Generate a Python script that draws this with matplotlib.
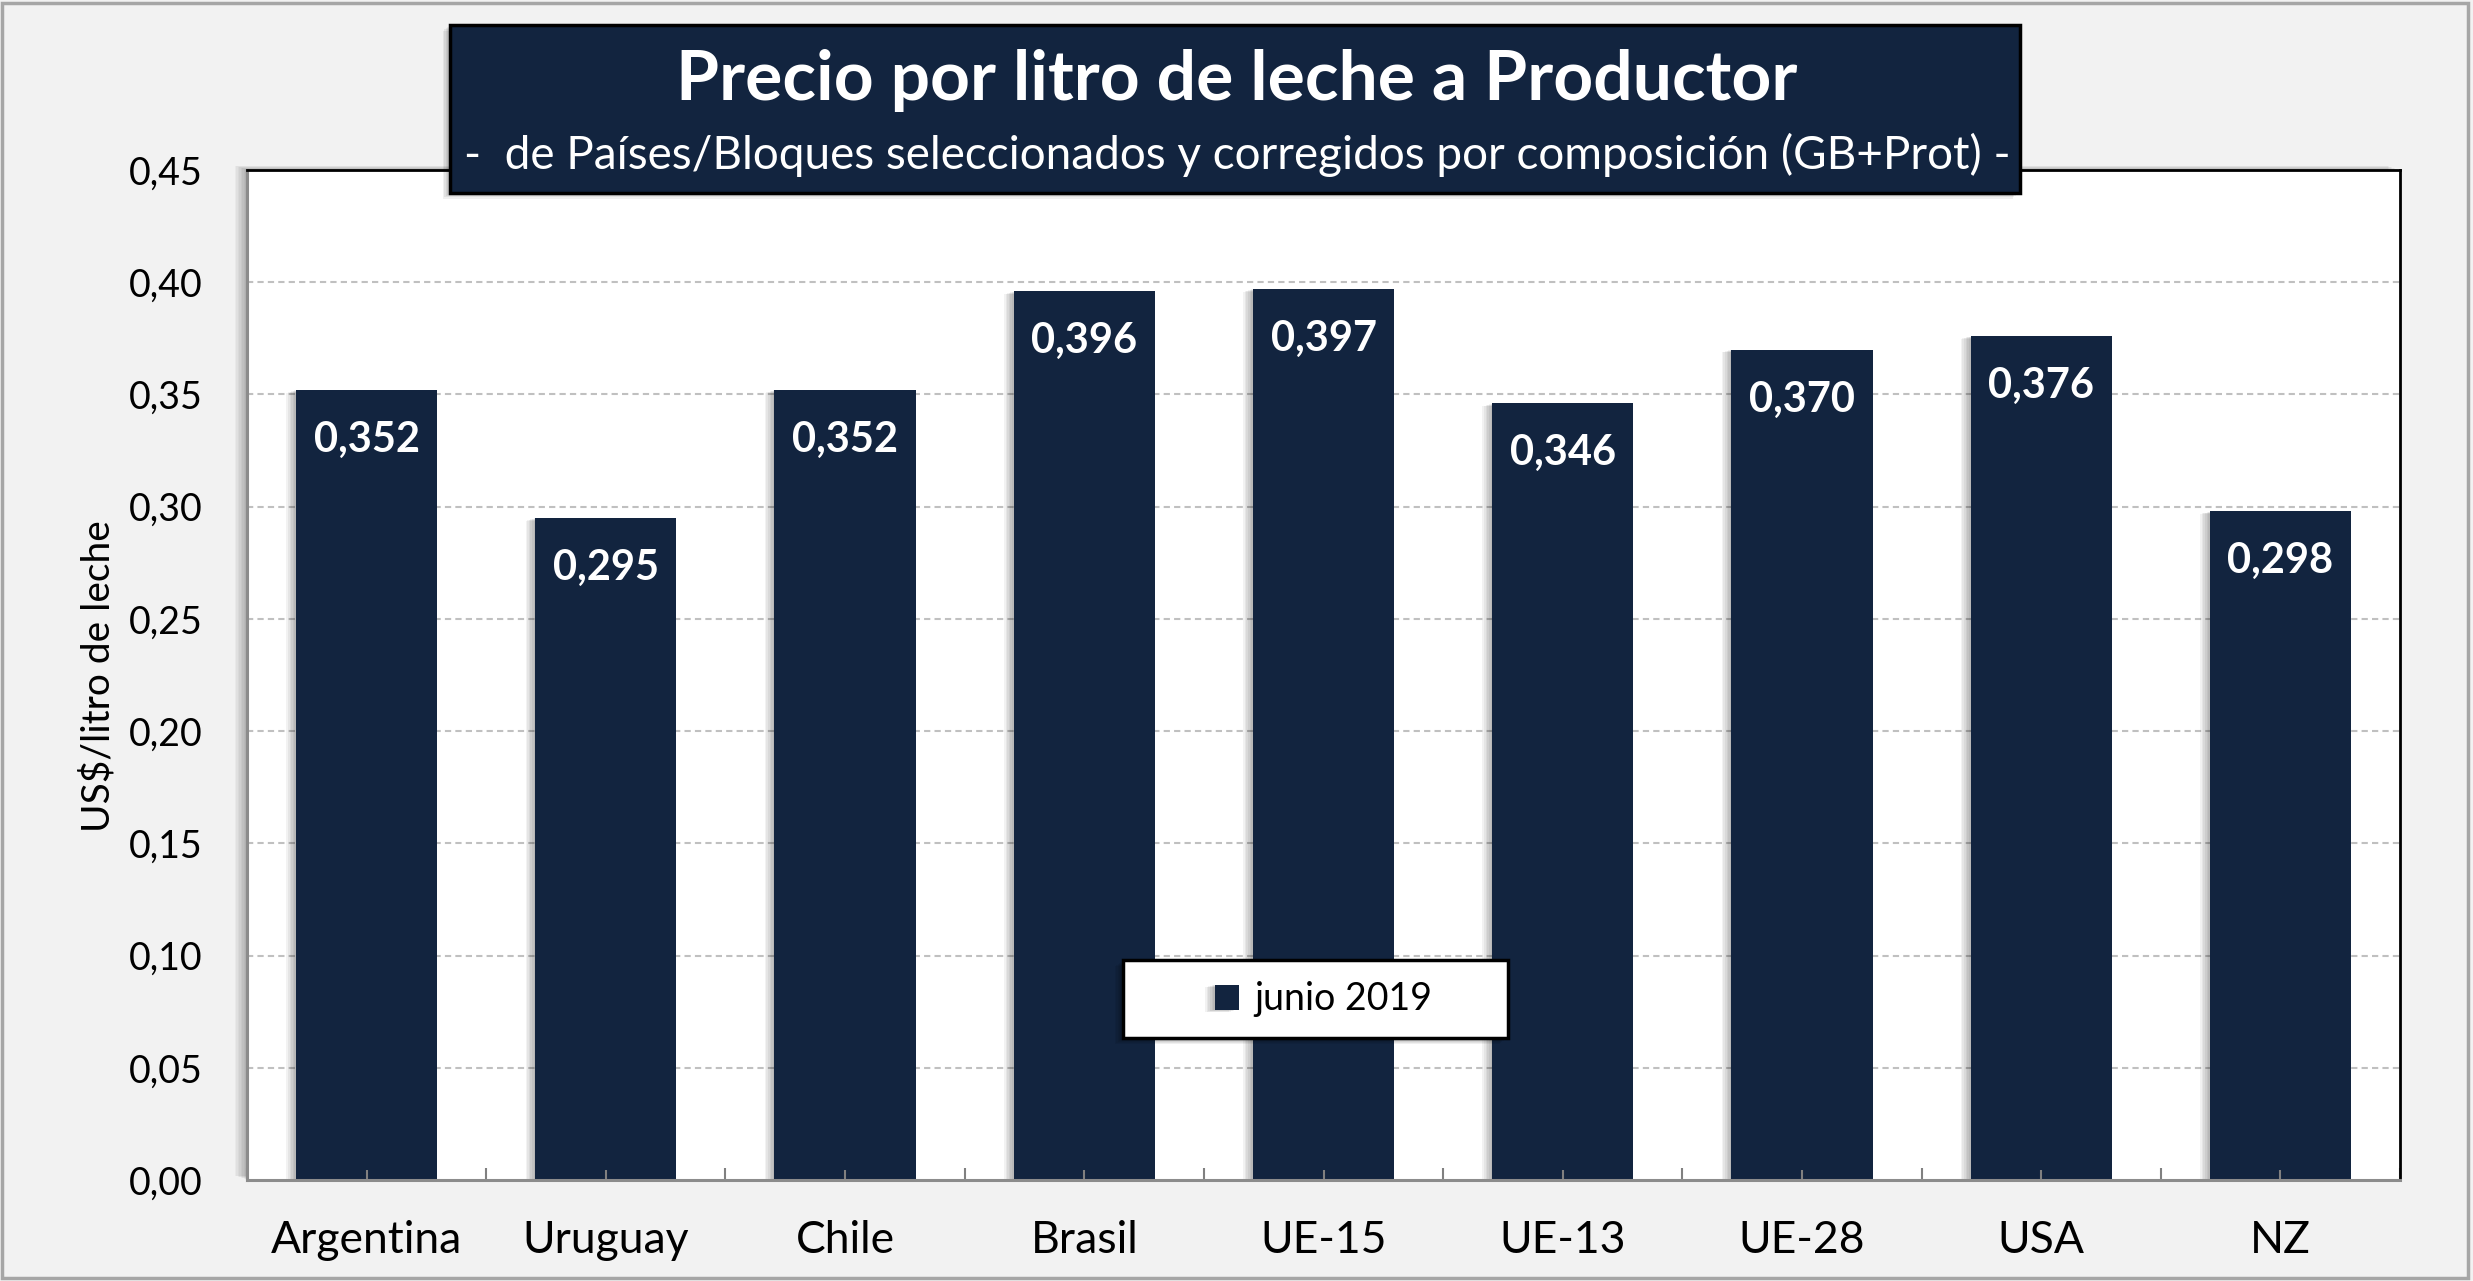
import numpy as np
import matplotlib
matplotlib.use("Agg")
import matplotlib.pyplot as plt
import matplotlib.patheffects as pe
from matplotlib.patches import Rectangle
from matplotlib.ticker import FixedLocator, FuncFormatter

# datos: precio por litro a productor, junio 2019
paises = ['Argentina', 'Uruguay', 'Chile', 'Brasil', 'UE-15', 'UE-13', 'UE-28', 'USA', 'NZ']
precio = [0.352, 0.295, 0.352, 0.396, 0.397, 0.346, 0.370, 0.376, 0.298]
serie = 'junio 2019'
titulo = 'Precio por litro de leche a Productor'
subtitulo = '-  de Países/Bloques seleccionados y corregidos por composición (GB+Prot) -'
ylabel = 'US$/litro de leche'
yticks = np.arange(0, 0.451, 0.05)

NAVY = '#12243f'
BG = '#f2f2f2'
plt.rcParams['font.family'] = ['Lato', 'DejaVu Sans']


def soft_shadow(dx, dy, n=6, alpha=0.05):
    # stack of offset shadows to fake a blurred drop shadow
    fx = [pe.SimplePatchShadow(offset=(dx * k / n, dy * k / n), shadow_rgbFace='k', alpha=alpha)
          for k in range(1, n + 1)]
    return fx + [pe.Normal()]


W, H = 2473, 1281
fig = plt.figure(figsize=(W / 100, H / 100), dpi=100, facecolor=BG)

# outer frame
fig.patches.append(Rectangle((0.001, 0.002), 0.997, 0.996, transform=fig.transFigure,
                             facecolor='none', edgecolor='#a6a6a6', linewidth=2.5, zorder=0))

ax = fig.add_axes([247 / W, 1 - 1180 / H, (2400 - 247) / W, (1180 - 170) / H])
ax.patch.set_facecolor('white')
ax.patch.set_path_effects(soft_shadow(-9, 3, n=8, alpha=0.035))

x = np.arange(len(paises))
for yv in yticks[1:]:
    ax.axhline(yv, color='#c0c0c0', linewidth=1.5, linestyle=(0, (3, 2)), zorder=0.5)

bars = ax.bar(x, precio, width=0.59, color=NAVY, zorder=1, label=serie)
for b in bars:
    b.set_path_effects(soft_shadow(-7, -2, n=6, alpha=0.05))

for xi, v in zip(x, precio):
    ax.annotate(f'{v:.3f}'.replace('.', ','), (xi, v), xytext=(0, -36), textcoords='offset points',
                ha='center', va='center', color='white', fontsize=30, fontweight='bold', zorder=3)

ax.set_xlim(-0.5, len(paises) - 0.5)
ax.set_ylim(0, 0.45)
ax.set_yticks(yticks)
ax.yaxis.set_major_formatter(FuncFormatter(lambda v, p: f'{v:.2f}'.replace('.', ',')))
ax.tick_params(axis='y', length=0, pad=32, labelsize=27)

ax.xaxis.set_major_locator(FixedLocator(np.arange(-0.5, len(paises), 1.0)))
ax.xaxis.set_minor_locator(FixedLocator(x))
ax.set_xticklabels([])
ax.set_xticks(x, minor=True)
ax.set_xticklabels(paises, minor=True)
ax.tick_params(axis='x', which='major', direction='in', length=9, width=1.5, color='#808080', labelbottom=False)
ax.tick_params(axis='x', which='minor', direction='in', length=7, width=1.5, color='#808080',
               labelsize=32, pad=29)

for s in ['top', 'right']:
    ax.spines[s].set_color('black')
    ax.spines[s].set_linewidth(2)
for s in ['left', 'bottom']:
    ax.spines[s].set_color('#8c8c8c')
    ax.spines[s].set_linewidth(2.2)

fig.text(98 / W, 1 - 676 / H, ylabel, rotation=90, ha='center', va='center', fontsize=28)

# legend box drawn by hand
leg_box = Rectangle((0.4069, 0.1406), 0.5857 - 0.4069, 0.2178 - 0.1406, transform=ax.transAxes,
                    facecolor='white', edgecolor='black', linewidth=2.5, zorder=4)
leg_box.set_path_effects(soft_shadow(-6, -4, n=6, alpha=0.06))
ax.add_patch(leg_box)
leg = ax.legend(loc='center', bbox_to_anchor=(0.5, 0.179), frameon=False, fontsize=27,
                handlelength=0.65, handleheight=0.65, handletextpad=0.4)
leg.set_zorder(5)

# title box
tbox = Rectangle((450 / W, 1 - 193 / H), 1570 / W, 168 / H, transform=fig.transFigure,
                 facecolor=NAVY, edgecolor='black', linewidth=2.5, zorder=5)
tbox.set_path_effects(soft_shadow(-5, -4, n=5, alpha=0.06))
fig.patches.append(tbox)
fig.text(1237 / W, 1 - 80 / H, titulo, ha='center', va='center', color='white',
         fontsize=50, fontweight='bold', zorder=6)
fig.text(1237 / W, 1 - 155 / H, subtitulo, ha='center', va='center', color='white',
         fontsize=33, zorder=6)

fig.savefig('out.png', dpi=100, facecolor=BG)
